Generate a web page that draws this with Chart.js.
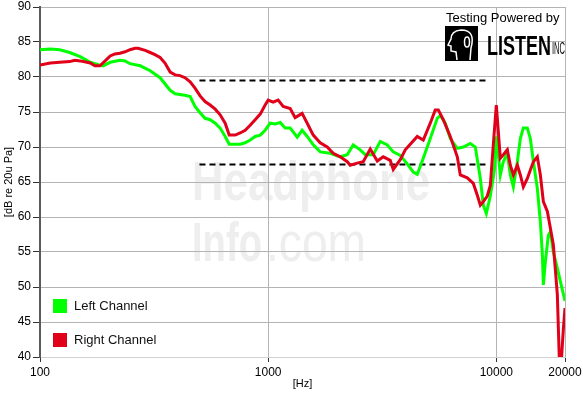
<!DOCTYPE html>
<html>
<head>
<meta charset="utf-8">
<script src="https://cdn.jsdelivr.net/npm/chart.js@4/dist/chart.umd.min.js"></script>
<style>
body { margin: 0; background: #fff; }
canvas { display: block; }
</style>
</head>
<body>
<canvas id="chart1" width="583" height="395"></canvas>
<script>
// values (Hz / dB)
var leftFreq = [100, 111, 122, 135, 150, 166, 183, 189, 203, 224, 236, 248, 275, 304, 336, 372, 391, 432, 455, 478,
  503, 529, 557, 586, 616, 648, 675, 754, 793, 834, 877, 923, 970, 1020, 1073, 1129, 1187, 1249, 1341, 1409,
  1483, 1576, 1691, 1870, 2070, 2221, 2360, 2532, 2664, 2887, 3100, 3326, 3534, 3793, 4071, 4325, 4503, 4785, 5135, 5510,
  5682, 5975, 6284, 6745, 7167, 7691, 8090, 8510, 8770, 9040, 9412, 9800, 10000, 10205, 10411, 10733, 11174, 11518, 11874, 12365,
  12743, 13135, 13677, 14101, 14537, 15128, 15597, 15916, 16076, 16403, 16910, 17260, 17783, 18512, 19085, 19870, 20000];
var leftDb = [83.9, 84.0, 83.9, 83.5, 82.9, 82.1, 81.7, 81.6, 82.1, 82.4, 82.3, 81.9, 81.6, 80.9, 79.9, 78.1, 77.6, 77.4, 77.2, 75.8,
  74.9, 74.1, 73.9, 73.4, 72.7, 71.5, 70.4, 70.4, 70.6, 71.0, 71.5, 71.7, 72.4, 73.4, 73.3, 73.5, 72.7, 72.7, 71.4, 72.4,
  71.5, 70.3, 69.3, 69.1, 68.6, 68.9, 70.3, 69.6, 68.9, 68.9, 70.8, 70.3, 69.3, 68.8, 67.6, 66.4, 66.1, 68.4, 71.2, 74.1,
  74.5, 73.4, 71.2, 69.8, 70.0, 70.5, 70.0, 65.5, 61.7, 60.5, 63.0, 66.6, 71.5, 68.9, 66.0, 67.9, 69.1, 66.0, 64.3, 67.9,
  71.2, 72.7, 72.7, 71.2, 67.9, 64.1, 59.3, 54.6, 50.3, 53.6, 57.4, 57.9, 55.0, 52.7, 50.8, 48.4, 48.0];

var rightFreq = [100, 111, 122, 135, 142, 150, 166, 174, 183, 193, 203, 213, 224, 236, 248, 261, 269, 289, 304, 319,
  336, 353, 372, 391, 411, 432, 455, 478, 503, 529, 557, 586, 616, 648, 675, 717, 754, 793, 834, 877,
  923, 970, 1000, 1052, 1106, 1164, 1249, 1313, 1409, 1483, 1576, 1691, 1815, 1928, 2070, 2221, 2289, 2457, 2610, 2802,
  3008, 3194, 3429, 3534, 3793, 3990, 4196, 4503, 4785, 5135, 5400, 5568, 5856, 6284, 6745, 6952, 7460, 7929, 8254, 8510,
  8770, 9130, 9412, 9701, 10000, 10205, 10411, 10733, 11174, 11518, 11874, 12365, 12743, 13135, 13677, 14101, 14537, 15128, 15597, 16076,
  16740, 17260, 17783, 18512, 18894, 19280, 19680, 20000];
var rightDb = [81.7, 82.0, 82.1, 82.2, 82.4, 82.3, 82.0, 81.6, 81.6, 82.3, 83.0, 83.3, 83.4, 83.6, 83.9, 84.1, 84.1, 83.8, 83.5, 83.2,
  82.8, 82.0, 80.7, 80.3, 80.2, 79.9, 79.3, 78.4, 77.3, 76.5, 76.0, 75.4, 74.6, 73.4, 71.7, 71.7, 72.0, 72.4, 73.1, 73.9,
  74.7, 76.0, 76.7, 76.4, 76.7, 75.8, 75.5, 74.2, 74.8, 73.4, 71.7, 70.6, 70.0, 69.1, 68.6, 67.9, 67.4, 67.7, 67.9, 69.7,
  68.0, 68.6, 68.1, 66.8, 68.2, 69.6, 70.4, 71.5, 71.0, 73.4, 75.3, 75.3, 73.9, 71.5, 68.6, 66.0, 65.6, 64.8, 63.1, 61.7,
  62.2, 63.0, 64.5, 70.3, 76.0, 72.2, 68.4, 68.9, 69.6, 67.4, 66.0, 67.4, 66.0, 64.3, 65.5, 66.7, 67.9, 68.6, 66.0, 62.2,
  60.8, 58.4, 56.0, 48.9, 39.5, 39.5, 44.1, 47.0];

var refFreq = [500, 9000];
var upperRef = [79.5, 79.5];
var lowerRef = [67.5, 67.5];

var xTicks = [100, 1000, 10000, 20000];
var seriesNames = ['Left Channel', 'Right Channel'];
var seriesColors = ['#00ff00', '#e0001a'];

var tickFont = { family: "'Liberation Sans', Arial", size: 12 };
var titleFont = { family: "'Liberation Sans', Arial", size: 11 };

function pts(xs, ys) {
  var out = [];
  for (var i = 0; i < xs.length; i++) out.push({ x: xs[i], y: ys[i] });
  return out;
}

// faint "HeadphoneInfo.com" watermark, sits under the grid
var watermark = {
  id: 'watermark',
  beforeDraw: function(chart) {
    var ctx = chart.ctx;
    ctx.save();
    ctx.fillStyle = '#eeeeee';
    ctx.textBaseline = 'alphabetic';
    ctx.font = "bold 56px 'Liberation Sans', Arial";
    ctx.fillText('Headphone', 192, 200, 238);
    ctx.fillText('Info', 192, 261, 70);
    ctx.font = "56px 'Liberation Sans', Arial";
    ctx.fillText('.com', 266, 261, 100);
    ctx.restore();
  }
};

// legend boxes in the lower left corner
var cornerLegend = {
  id: 'cornerLegend',
  afterDraw: function(chart) {
    var ctx = chart.ctx;
    var ys = [299, 333];
    ctx.save();
    ctx.font = "13px 'Liberation Sans', Arial";
    ctx.textBaseline = 'middle';
    for (var i = 0; i < seriesNames.length; i++) {
      ctx.fillStyle = seriesColors[i];
      ctx.fillRect(53, ys[i], 14, 14);
      ctx.fillStyle = '#111';
      ctx.fillText(seriesNames[i], 74, ys[i] + 7.5);
    }
    ctx.restore();
  }
};

// "Testing Powered by LISTEN inc" badge
var badge = {
  id: 'badge',
  afterDraw: function(chart) {
    var ctx = chart.ctx;
    ctx.save();
    ctx.fillStyle = '#000';
    ctx.font = "13px 'Liberation Sans', Arial";
    ctx.textBaseline = 'alphabetic';
    ctx.fillText('Testing Powered by', 446, 22, 116);

    ctx.fillRect(445, 26, 33, 35);
    ctx.strokeStyle = '#fff';
    ctx.lineWidth = 1.5;
    ctx.beginPath();
    ctx.moveTo(470, 60);
    ctx.lineTo(471, 48);
    ctx.quadraticCurveTo(476, 30, 461, 30);
    ctx.quadraticCurveTo(451, 31, 451, 39);
    ctx.lineTo(448, 45);
    ctx.lineTo(451, 46);
    ctx.lineTo(451, 51);
    ctx.lineTo(456, 52);
    ctx.lineTo(457, 60);
    ctx.stroke();
    ctx.beginPath();
    ctx.ellipse(467, 42, 2.5, 5, 0, 0, Math.PI * 2);
    ctx.stroke();

    ctx.fillStyle = '#000';
    ctx.font = "bold 28px 'Liberation Sans Narrow', 'Liberation Sans', Arial";
    ctx.fillText('LISTEN', 487, 55, 64);
    ctx.font = "17px 'Liberation Sans Narrow', 'Liberation Sans', Arial";
    ctx.fillText('INC', 552, 54, 13);
    ctx.restore();
  }
};

var ctx = document.getElementById('chart1').getContext('2d');
var chart = new Chart(ctx, {
  type: 'line',
  data: {
    datasets: [
      {
        label: seriesNames[0],
        data: pts(leftFreq, leftDb),
        borderColor: seriesColors[0],
        borderWidth: 3,
        pointRadius: 0,
        tension: 0,
        fill: false,
        order: 1
      },
      {
        label: seriesNames[1],
        data: pts(rightFreq, rightDb),
        borderColor: seriesColors[1],
        borderWidth: 3,
        pointRadius: 0,
        tension: 0,
        fill: false,
        order: 0
      },
      {
        label: 'upper',
        data: pts(refFreq, upperRef),
        borderColor: '#000',
        borderWidth: 2,
        borderDash: [6, 4],
        pointRadius: 0,
        fill: false,
        order: 2
      },
      {
        label: 'lower',
        data: pts(refFreq, lowerRef),
        borderColor: '#000',
        borderWidth: 2,
        borderDash: [6, 4],
        pointRadius: 0,
        fill: false,
        order: 2
      }
    ]
  },
  options: {
    responsive: false,
    animation: false,
    layout: { padding: { left: 0, right: 18, top: 7, bottom: 0 } },
    plugins: {
      legend: { display: false },
      tooltip: { enabled: false }
    },
    scales: {
      x: {
        type: 'logarithmic',
        min: 100,
        max: 20000,
        afterBuildTicks: function(s) {
          s.ticks = xTicks.map(function(v) { return { value: v }; });
        },
        afterFit: function(s) {
          s.height = 38;
          s.paddingLeft = 0;
          s.paddingRight = 0;
        },
        ticks: {
          autoSkip: false,
          maxRotation: 0,
          color: '#000',
          font: tickFont,
          padding: 3,
          callback: function(v) { return String(v); }
        },
        grid: { color: '#b4b4b4', tickColor: '#333', tickLength: 5 },
        border: { color: '#d2d2d2' },
        title: { display: true, text: '[Hz]', color: '#000', font: titleFont, padding: { top: 0, bottom: 4 } }
      },
      y: {
        min: 40,
        max: 90,
        afterFit: function(s) {
          s.width = 40;
          s.paddingTop = 0;
          s.paddingBottom = 0;
        },
        ticks: { stepSize: 5, color: '#000', font: tickFont, padding: 2 },
        grid: {
          color: function(c) { return c.tick && c.tick.value === 40 ? '#d2d2d2' : '#b4b4b4'; },
          tickColor: '#333',
          tickLength: 7
        },
        border: { color: '#5a5a5a', width: 2 },
        title: { display: true, text: '[dB re 20u Pa]', color: '#000', font: titleFont, padding: { top: 2, bottom: 0 } }
      }
    }
  },
  plugins: [watermark, cornerLegend, badge]
});
</script>
</body>
</html>
